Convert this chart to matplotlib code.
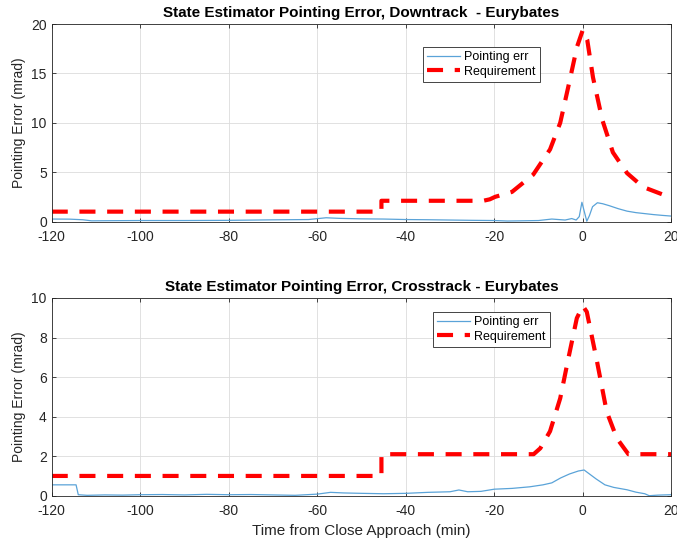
import matplotlib
matplotlib.use("Agg")
import matplotlib.pyplot as plt

plt.rcParams["font.family"] = ["Liberation Sans", "DejaVu Sans"]
plt.rcParams["axes.unicode_minus"] = False

# downtrack requirement
req_dt_t = [-120, -45.5, -45.5, -22.5, -21, -19.8, -16, -11.2, -7.4, -5.1, -3.3, -1.3, 0, 1.0, 2.3, 4.4, 6.8, 10.0, 13.6, 20]
req_dt_y = [1, 1, 2.1, 2.1, 2.25, 2.5, 3.0, 4.75, 7.3, 10.0, 13.6, 17.7, 19.4, 18.4, 14.6, 10.3, 7.0, 4.9, 3.5, 2.4]

# downtrack pointing error
err_dt_t = [-120, -116, -113, -111, -108, -100, -90, -80, -70, -62, -58, -55, -50, -45, -40, -35, -30, -25, -20,
            -17, -14, -10, -7, -4, -2.5, -1.5, -0.8, -0.2, 0.4, 0.9, 1.5, 2.2, 3.3, 4.5, 6, 8, 10, 12, 14, 16, 18, 20]
err_dt_y = [0.25, 0.24, 0.18, 0.07, 0.08, 0.1, 0.1, 0.12, 0.17, 0.2, 0.38, 0.32, 0.27, 0.25, 0.2, 0.18, 0.15, 0.12, 0.1,
            0.05, 0.07, 0.1, 0.25, 0.15, 0.3, 0.15, 0.5, 1.95, 0.9, 0.03, 0.6, 1.5, 1.9, 1.8, 1.6, 1.3, 1.05, 0.9, 0.8, 0.7, 0.62, 0.55]

# crosstrack requirement
req_ct_t = [-120, -45.5, -45.5, -11.1, -9.6, -7.4, -5.1, -3.25, -1.35, 0, 0.9, 3.2, 5.4, 7.7, 10.3, 20]
req_ct_y = [1, 1, 2.1, 2.1, 2.4, 3.26, 4.93, 6.96, 8.98, 9.6, 9.3, 6.8, 4.25, 2.9, 2.1, 2.1]

# crosstrack pointing error
err_ct_t = [-120, -114.5, -114, -112, -108, -104, -100, -95, -90, -85, -80, -75, -70, -65, -60, -57, -54, -50, -45,
            -40, -35, -30, -28, -26, -23, -20, -16, -12, -9, -7, -5, -3, -1, 0.3, 1.5, 3, 5, 7, 10, 12, 14, 15, 17, 20]
err_ct_y = [0.55, 0.55, 0.05, 0.02, 0.04, 0.03, 0.05, 0.06, 0.04, 0.07, 0.05, 0.06, 0.04, 0.02, 0.08, 0.17, 0.14, 0.12, 0.1,
            0.12, 0.17, 0.2, 0.29, 0.2, 0.22, 0.33, 0.37, 0.45, 0.55, 0.65, 0.9, 1.1, 1.25, 1.3, 1.1, 0.85, 0.55, 0.42, 0.3, 0.18, 0.1, 0.0, 0.03, 0.05]

xticks = [-120, -100, -80, -60, -40, -20, 0, 20]

fig = plt.figure(figsize=(6.77, 5.42), dpi=100)
ax1 = fig.add_axes([0.0764, 0.5913, 0.9152, 0.3644])
ax2 = fig.add_axes([0.0764, 0.0854, 0.9152, 0.3648])

def style(ax, err_t, err_y, req_t, req_y, ymax, yticks, title, leg_anchor):
    ax.plot(err_t, err_y, color="#5aa3d8", lw=0.9, label="Pointing err")
    ax.plot(req_t, req_y, color="#ff0000", lw=3, linestyle=(0, (3.85, 2.8)), label="Requirement")
    ax.set_xlim(-120, 20)
    ax.set_ylim(0, ymax)
    ax.set_xticks(xticks)
    ax.set_yticks(yticks)
    ax.grid(True, color="#dcdcdc", lw=0.6)
    ax.set_axisbelow(True)
    ax.tick_params(direction="in", top=True, right=True, labelsize=10, colors="#262626", length=3, width=0.6)
    ax.tick_params(axis="x", pad=6)
    for s in ax.spines.values():
        s.set_color("#262626")
        s.set_linewidth(0.6)
    ax.set_title(title, fontsize=11, fontweight="bold", pad=5)
    ax.set_ylabel("Pointing Error (mrad)", fontsize=10, color="#262626")
    leg = ax.legend(loc="upper left", bbox_to_anchor=leg_anchor, fontsize=9, handlelength=2.65,
                    fancybox=False, edgecolor="#262626", framealpha=1, borderpad=0.35,
                    labelspacing=0.2, handletextpad=0.3, borderaxespad=0)
    leg.get_frame().set_linewidth(0.6)

style(ax1, err_dt_t, err_dt_y, req_dt_t, req_dt_y, 20, [0, 5, 10, 15, 20],
      "State Estimator Pointing Error, Downtrack  - Eurybates", (0.599, 0.884))
style(ax2, err_ct_t, err_ct_y, req_ct_t, req_ct_y, 10, [0, 2, 4, 6, 8, 10],
      "State Estimator Pointing Error, Crosstrack - Eurybates", (0.615, 0.931))
ax2.set_xlabel("Time from Close Approach (min)", fontsize=11, color="#262626")

fig.savefig("out.png", dpi=100)
